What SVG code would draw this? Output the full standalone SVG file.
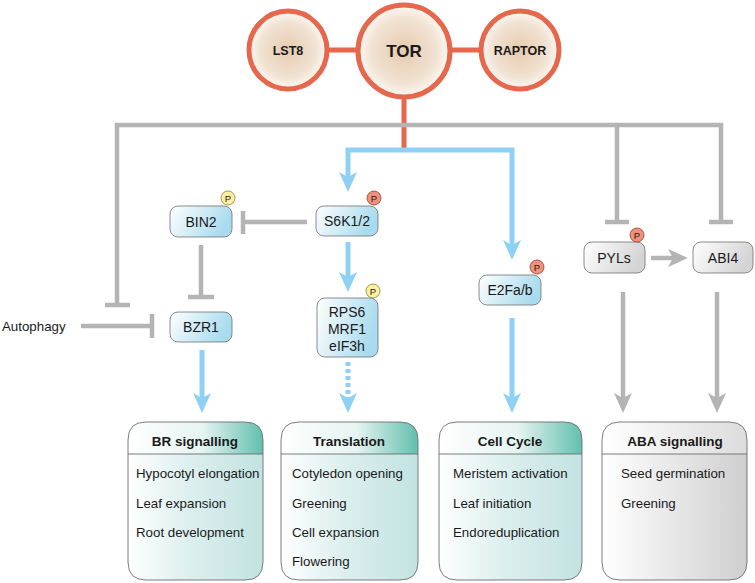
<svg xmlns="http://www.w3.org/2000/svg" width="755" height="583" viewBox="0 0 755 583">
<defs>
<style>
text{font-family:"Liberation Sans",Arial,sans-serif;fill:#1a1a1a}
.nl{font-size:14px;text-anchor:middle}
.cx{font-size:17px;font-weight:bold;text-anchor:middle}
.cs{font-size:12.5px;font-weight:bold;text-anchor:middle}
.hd{font-size:13.5px;font-weight:bold;text-anchor:middle}
.it{font-size:13.3px}
.pl{font-size:9.5px;text-anchor:middle}
.red{stroke:#e5674c;stroke-width:5;fill:none}
.blue{stroke:#8fd1f4;stroke-width:5;fill:none}
.gray{stroke:#b4b4b4;stroke-width:4.5;fill:none}
.circ{stroke:#e5674c;stroke-width:5;fill:url(#cg)}
.nb{stroke:#6e6e6e;stroke-width:0.8;fill:url(#bg)}
.ng{stroke:#6e6e6e;stroke-width:0.8;fill:url(#gg)}
.py{fill:#fbefa0;stroke:#8a7f40;stroke-width:0.8}
.pr{fill:#f2907a;stroke:#8a3f30;stroke-width:0.8}
.bx{stroke:#6e6e6e;stroke-width:0.9}
.hl{stroke:#6e6e6e;stroke-width:0.9}
</style>
<radialGradient id="cg" cx="0.5" cy="0.5" r="0.5">
<stop offset="0" stop-color="#e6cbb0"/><stop offset="0.7" stop-color="#f1e2d2"/><stop offset="1" stop-color="#fcf8f3"/>
</radialGradient>
<linearGradient id="bg" x1="0" y1="0" x2="1" y2="0.3">
<stop offset="0" stop-color="#ffffff"/><stop offset="1" stop-color="#a9dbee"/>
</linearGradient>
<linearGradient id="gg" x1="0" y1="0" x2="1" y2="0.3">
<stop offset="0" stop-color="#ffffff"/><stop offset="1" stop-color="#d4d4d4"/>
</linearGradient>
<linearGradient id="th" x1="0" y1="0" x2="1" y2="0">
<stop offset="0" stop-color="#ffffff"/><stop offset="0.55" stop-color="#e6f4f2"/><stop offset="1" stop-color="#62bfad"/>
</linearGradient>
<linearGradient id="tb" x1="0" y1="0" x2="1" y2="0">
<stop offset="0" stop-color="#ffffff"/><stop offset="0.45" stop-color="#dcefee"/><stop offset="1" stop-color="#c2e3e1"/>
</linearGradient>
<linearGradient id="gh" x1="0" y1="0" x2="1" y2="0">
<stop offset="0" stop-color="#ffffff"/><stop offset="1" stop-color="#dcdcdc"/>
</linearGradient>
<linearGradient id="gb" x1="0" y1="0" x2="1" y2="0">
<stop offset="0" stop-color="#ffffff"/><stop offset="1" stop-color="#cfcfd0"/>
</linearGradient>
<marker id="ab" markerUnits="userSpaceOnUse" markerWidth="20" markerHeight="20" viewBox="0 0 20 20" refX="6" refY="10" orient="auto">
<path d="M0,1 L20,10 L0,19 L5,10 Z" fill="#8fd1f4"/>
</marker>
<marker id="ag" markerUnits="userSpaceOnUse" markerWidth="20" markerHeight="20" viewBox="0 0 20 20" refX="6" refY="10" orient="auto">
<path d="M0,1 L20,10 L0,19 L5,10 Z" fill="#b4b4b4"/>
</marker>
</defs>

<g id="connectors">
<line class="red" x1="326" y1="50" x2="360" y2="50"/>
<line class="red" x1="448" y1="50" x2="482" y2="50"/>
<line class="red" x1="404" y1="98" x2="404" y2="152"/>
<path class="gray" d="M117,305 V125 H721 V222"/>
<line class="gray" x1="617" y1="125" x2="617" y2="222"/>
<line class="gray" x1="105" y1="305" x2="130" y2="305"/>
<line class="gray" x1="605" y1="222" x2="629" y2="222"/>
<line class="gray" x1="709" y1="222" x2="733" y2="222"/>
<path class="blue" d="M404,150 H348 V178" marker-end="url(#ab)"/>
<path class="blue" d="M404,150 H512 V246" marker-end="url(#ab)"/>
<line class="gray" x1="307" y1="222" x2="243" y2="222"/>
<line class="gray" x1="243" y1="211" x2="243" y2="234"/>
<line class="gray" x1="201" y1="245" x2="201" y2="297"/>
<line class="gray" x1="188" y1="297" x2="214" y2="297"/>
<line class="gray" x1="81" y1="326" x2="152" y2="326"/>
<line class="gray" x1="152" y1="314" x2="152" y2="338"/>
<line class="blue" x1="348" y1="242" x2="348" y2="278" marker-end="url(#ab)"/>
<line class="blue" x1="202" y1="350" x2="202" y2="399" marker-end="url(#ab)"/>
<line class="blue" x1="348" y1="362" x2="348" y2="399" stroke-dasharray="4 3" marker-end="url(#ab)"/>
<line class="blue" x1="512" y1="318" x2="512" y2="399" marker-end="url(#ab)"/>
<line class="gray" x1="651" y1="258" x2="674" y2="258" marker-end="url(#ag)"/>
<line class="gray" x1="623" y1="292" x2="623" y2="399" marker-end="url(#ag)"/>
<line class="gray" x1="717" y1="292" x2="717" y2="399" marker-end="url(#ag)"/>
</g>

<g id="LST8"><circle class="circ" cx="288" cy="50" r="39"/><text class="cs" x="288" y="55">LST8</text></g>
<g id="TOR"><circle class="circ" cx="404" cy="51" r="46"/><text class="cx" x="404" y="57">TOR</text></g>
<g id="RAPTOR"><circle class="circ" cx="520" cy="50" r="39"/><text class="cs" x="520" y="55">RAPTOR</text></g>

<g id="Autophagy"><text class="it" x="2" y="331">Autophagy</text></g>

<g id="BIN2"><rect class="nb" x="170" y="206" width="62" height="31" rx="8"/><text class="nl" x="201" y="226.5">BIN2</text>
<circle class="py" cx="228" cy="198" r="7"/><text class="pl" x="228" y="201.5">P</text></g>
<g id="S6K12"><rect class="nb" x="316" y="206" width="62" height="30" rx="8"/><text class="nl" x="347" y="226">S6K1/2</text>
<circle class="pr" cx="374" cy="198" r="7"/><text class="pl" x="374" y="201.5">P</text></g>
<g id="BZR1"><rect class="nb" x="170" y="312" width="62" height="30" rx="8"/><text class="nl" x="201" y="332">BZR1</text></g>
<g id="RPS6"><rect class="nb" x="317" y="298" width="61" height="59" rx="8"/>
<text class="nl" x="347" y="317">RPS6</text><text class="nl" x="347" y="334">MRF1</text><text class="nl" x="347" y="351">eIF3h</text>
<circle class="py" cx="373" cy="291" r="7"/><text class="pl" x="373" y="294.5">P</text></g>
<g id="E2Fab"><rect class="nb" x="479" y="275" width="62" height="30" rx="8"/><text class="nl" x="510" y="295">E2Fa/b</text>
<circle class="pr" cx="537" cy="267" r="7"/><text class="pl" x="537" y="270.5">P</text></g>
<g id="PYLs"><rect class="ng" x="584" y="242" width="61" height="31" rx="8"/><text class="nl" x="614" y="262.5">PYLs</text>
<circle class="pr" cx="637" cy="235" r="7"/><text class="pl" x="637" y="238.5">P</text></g>
<g id="ABI4"><rect class="ng" x="693" y="242" width="60" height="31" rx="8"/><text class="nl" x="723" y="262.5">ABI4</text></g>

<g id="BRsignalling">
<path d="M128,454 V440 Q128,422 146,422 H245 Q263,422 263,440 V454 Z" fill="url(#th)"/>
<path d="M128,454 H263 V562 Q263,580 245,580 H146 Q128,580 128,562 Z" fill="url(#tb)"/>
<path class="bx" fill="none" d="M128,440 Q128,422 146,422 H245 Q263,422 263,440 V562 Q263,580 245,580 H146 Q128,580 128,562 Z"/>
<line class="hl" x1="128" y1="454" x2="263" y2="454"/>
<text class="hd" x="195" y="446">BR signalling</text>
<text class="it" x="136" y="478">Hypocotyl elongation</text>
<text class="it" x="136" y="508">Leaf expansion</text>
<text class="it" x="136" y="537">Root development</text>
</g>
<g id="Translation">
<path d="M281,454 V440 Q281,422 299,422 H400 Q418,422 418,440 V454 Z" fill="url(#th)"/>
<path d="M281,454 H418 V562 Q418,580 400,580 H299 Q281,580 281,562 Z" fill="url(#tb)"/>
<path class="bx" fill="none" d="M281,440 Q281,422 299,422 H400 Q418,422 418,440 V562 Q418,580 400,580 H299 Q281,580 281,562 Z"/>
<line class="hl" x1="281" y1="454" x2="418" y2="454"/>
<text class="hd" x="349" y="446">Translation</text>
<text class="it" x="292" y="478">Cotyledon opening</text>
<text class="it" x="292" y="508">Greening</text>
<text class="it" x="292" y="537">Cell expansion</text>
<text class="it" x="292" y="566">Flowering</text>
</g>
<g id="CellCycle">
<path d="M439,454 V440 Q439,422 457,422 H564 Q582,422 582,440 V454 Z" fill="url(#th)"/>
<path d="M439,454 H582 V562 Q582,580 564,580 H457 Q439,580 439,562 Z" fill="url(#tb)"/>
<path class="bx" fill="none" d="M439,440 Q439,422 457,422 H564 Q582,422 582,440 V562 Q582,580 564,580 H457 Q439,580 439,562 Z"/>
<line class="hl" x1="439" y1="454" x2="582" y2="454"/>
<text class="hd" x="510" y="446">Cell Cycle</text>
<text class="it" x="453" y="478">Meristem activation</text>
<text class="it" x="453" y="508">Leaf initiation</text>
<text class="it" x="453" y="537">Endoreduplication</text>
</g>
<g id="ABAsignalling">
<path d="M602,454 V440 Q602,422 620,422 H729 Q747,422 747,440 V454 Z" fill="url(#gh)"/>
<path d="M602,454 H747 V562 Q747,580 729,580 H620 Q602,580 602,562 Z" fill="url(#gb)"/>
<path class="bx" fill="none" d="M602,440 Q602,422 620,422 H729 Q747,422 747,440 V562 Q747,580 729,580 H620 Q602,580 602,562 Z"/>
<line class="hl" x1="602" y1="454" x2="747" y2="454"/>
<text class="hd" x="675" y="446">ABA signalling</text>
<text class="it" x="621" y="478">Seed germination</text>
<text class="it" x="621" y="508">Greening</text>
</g>
</svg>
